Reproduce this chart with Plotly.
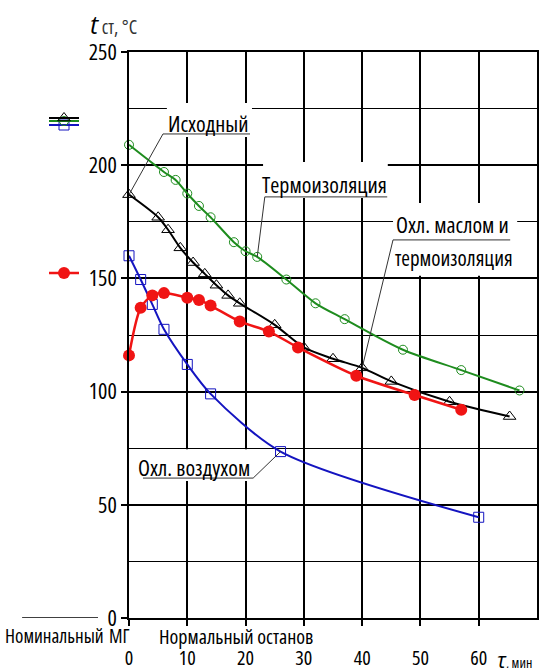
import plotly.graph_objects as go

# ---- data ----
black_t = [0, 5, 6.7, 8.8, 11, 13, 15, 17, 19, 25, 30, 35, 40, 45, 55, 65.3]
black_T = [187, 177, 171.5, 163.5, 157, 152, 147, 142.5, 139, 129.5, 119.5, 114.5, 110.5, 104.5, 95.5, 89]
green_t = [0, 6, 8, 10, 12, 14, 18, 20, 22, 27, 32, 37, 47, 57, 67]
green_T = [209, 197, 193.5, 187.5, 182, 177, 166, 162, 159.5, 149.5, 139, 132, 118.5, 109.5, 100.5]
red_t = [0, 2, 4, 6, 10, 12, 14, 19, 24, 29, 39, 49, 57]
red_T = [116, 137, 142.5, 143.5, 141.5, 140.5, 138, 131, 126.5, 119.5, 107, 98.5, 92]
blue_t = [0, 2, 4, 6, 10, 14, 26, 60]
blue_T = [160, 149.5, 138.5, 127.5, 112, 99, 73.5, 44.5]

x_ticks = [0, 10, 20, 30, 40, 50, 60]
y_ticks = [0, 50, 100, 150, 200, 250]

FONT = "Open Sans, Liberation Sans, Arial, sans-serif"
FS = 22
GREEN = "#1E8C1E"
BLUE = "#1414C0"
RED = "#F01414"


def cond(s):
    return f"<span style='font-stretch:condensed'>{s}</span>"


fig = go.Figure()
fig.add_trace(go.Scatter(x=green_t, y=green_T, mode="lines+markers", name="",
                         line=dict(color=GREEN, width=2, shape="spline", smoothing=0.8),
                         marker=dict(symbol="circle-open", size=9, color=GREEN, line=dict(width=1)),
                         legend="legend2", cliponaxis=False))
fig.add_trace(go.Scatter(x=blue_t, y=blue_T, mode="lines+markers", name="",
                         line=dict(color=BLUE, width=2, shape="spline", smoothing=0.8),
                         marker=dict(symbol="square-open", size=10, color=BLUE, line=dict(width=1)),
                         legend="legend", cliponaxis=False))
fig.add_trace(go.Scatter(x=black_t, y=black_T, mode="lines+markers", name="",
                         line=dict(color="black", width=2, shape="spline", smoothing=0.8),
                         marker=dict(symbol="triangle-up-open", size=11, color="black", line=dict(width=1)),
                         legend="legend3", cliponaxis=False))
fig.add_trace(go.Scatter(x=red_t, y=red_T, mode="lines+markers", name="",
                         line=dict(color=RED, width=2.5, shape="spline", smoothing=0.8),
                         marker=dict(symbol="circle", size=12, color=RED),
                         legend="legend4", cliponaxis=False))

# white label boxes (cover the grid only)
boxes = [(6.5, 21.1, 212.5, 227.5), (23.0, 44.4, 185.5, 201.4),
         (45.3, 66.6, 151.2, 183.3), (1.5, 21.6, 60.5, 74.5)]
shapes = []
for x0, x1, y0, y1 in boxes:
    shapes.append(dict(type="rect", xref="x", yref="y", x0=x0, x1=x1, y0=y0, y1=y1,
                       fillcolor="white", line=dict(width=0), layer="between"))

LC = "#333333"
# underlines and leader lines
lines = [
    (5.83, 213.8, 20.76, 213.8), (5.83, 213.8, black_t[0], black_T[0]),
    (23.3, 186.0, 44.3, 186.0), (23.3, 186.0, green_t[8], green_T[8]),
    (45.3, 167.0, 65.4, 167.0), (45.3, 167.0, black_t[12], black_T[12]),
    (2.4, 61.8, 21.3, 61.8), (21.3, 61.8, blue_t[6], blue_T[6]),
]
for x0, y0, x1, y1 in lines:
    shapes.append(dict(type="line", xref="x", yref="y", x0=x0, y0=y0, x1=x1, y1=y1,
                       line=dict(color=LC, width=1), layer="above"))

# decoration line left of the "0" label
shapes.append(dict(type="line", xref="paper", yref="y", x0=-0.262, x1=-0.076, y0=0, y1=0,
                   line=dict(color="black", width=1.5)))

annotations = []


def lab(text, x, y, size=FS, xref="x", yref="y", **kw):
    annotations.append(dict(text=text, x=x, y=y, xref=xref, yref=yref, showarrow=False,
                            xanchor="center", yanchor="middle",
                            font=dict(family=FONT, size=size, color="black"), **kw))


lab(cond("Исходный"), 13.55, 218.6)
lab(cond("Термоизоляция"), 33.6, 191.7)
lab(cond("Охл. маслом и"), 55.5, 174.0)
lab(cond("термоизоляция"), 55.7, 159.0, size=21)
lab(cond("Охл. воздухом"), 11.07, 66.5)

# bottom text row
yb = (618 - 636) / 566
lab(cond("Номинальный"), (54 - 129) / 408, yb, size=19, xref="paper", yref="paper")
lab(cond("МГ"), (119 - 129) / 408, yb, size=19, xref="paper", yref="paper")
lab(cond("Нормальный останов"), (236 - 129) / 408, yb, size=20, xref="paper", yref="paper")
# axis titles
lab("<i>τ</i><span style='font-size:14px;font-stretch:condensed'>, мин</span>",
    (514 - 129) / 408, (618 - 660) / 566, size=21, xref="paper", yref="paper")
lab("<i>t</i><span style='font-size:19px;font-stretch:condensed;fill:#333'> ст, °C</span>",
    (113 - 129) / 408, (618 - 24) / 566, size=25, xref="paper", yref="paper")

leg_common = dict(xanchor="left", yanchor="middle", bgcolor="rgba(0,0,0,0)",
                  font=dict(size=2), itemwidth=30, borderwidth=0)
lx = (44 - 129) / 408

fig.update_layout(
    width=541, height=668,
    margin=dict(l=129, r=4, t=52, b=50, autoexpand=False),
    paper_bgcolor="white", plot_bgcolor="white",
    font=dict(family=FONT, size=FS, color="black"),
    showlegend=True,
    legend=dict(x=lx, y=(618 - 125) / 566, **leg_common),
    legend2=dict(x=lx, y=(618 - 121) / 566, **leg_common),
    legend3=dict(x=lx, y=(618 - 118) / 566, **leg_common),
    legend4=dict(x=lx, y=(618 - 273) / 566, **leg_common),
    xaxis=dict(range=[0, 70], tickvals=x_ticks, ticktext=[cond(v) for v in x_ticks],
               showgrid=True, gridcolor="black", gridwidth=1.6, automargin=False,
               showline=True, mirror=True, linecolor="black", linewidth=1.6,
               ticks="outside", ticklen=6, tickwidth=1.6, tickcolor="black",
               ticklabelstandoff=15, zeroline=False,
               tickfont=dict(family=FONT, size=20)),
    yaxis=dict(range=[0, 250], tickvals=y_ticks, ticktext=[cond(v) for v in y_ticks],
               showgrid=True, gridcolor="black", gridwidth=2, automargin=False,
               showline=True, mirror=True, linecolor="black", linewidth=1.6,
               ticks="outside", ticklen=6, tickwidth=1.6, tickcolor="black", zeroline=False,
               tickfont=dict(family=FONT, size=FS),
               minor=dict(dtick=25, showgrid=True, gridcolor="black", gridwidth=1, ticks="")),
    shapes=shapes,
    annotations=annotations,
)

fig.write_html("out.html", config={"displayModeBar": False},
               post_script="document.body.style.margin='0';")
